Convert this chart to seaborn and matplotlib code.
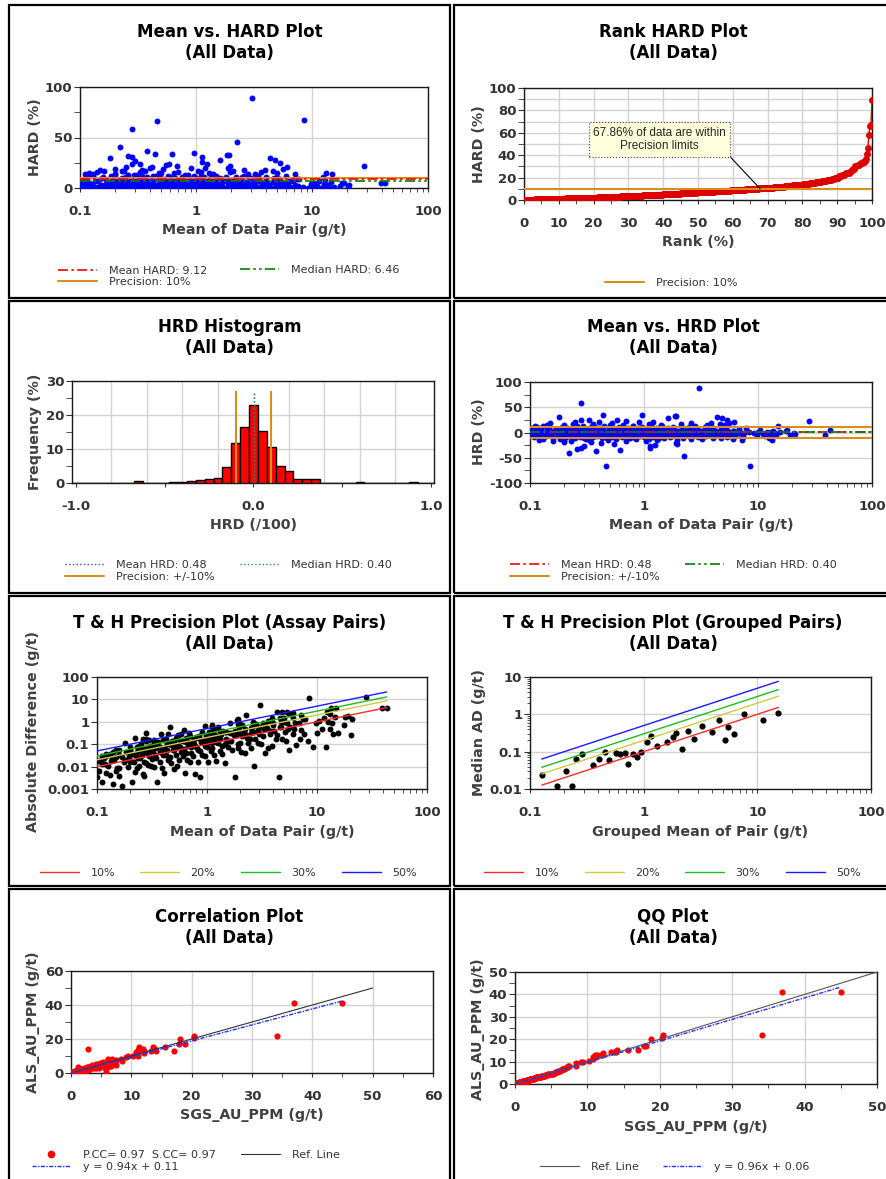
import numpy as np
import pandas as pd
import matplotlib
matplotlib.use("Agg")
import matplotlib.pyplot as plt
import seaborn as sns
from matplotlib.lines import Line2D
from matplotlib.patches import Rectangle
from matplotlib.ticker import LogLocator, NullFormatter

# duplicate pairs read off the Mean vs. HRD plot
# pair mean (g/t) and HRD (%) = (SGS - ALS) / (SGS + ALS) * 100
pair_mean = [
    # outliers
    0.46, 8.45, 2.24, 0.22, 0.38, 0.62, 0.26, 0.28, 1.12, 0.30, 1.12, 1.25, 0.55,
    1.9, 0.2, 0.34, 0.42, 1.95, 3.04, 0.28, 0.96, 0.44, 1.86, 1.92, 0.18, 4.37,
    4.8, 1.62, 0.33, 0.28, 5.3, 0.58, 0.25, 6.1, 0.69, 0.4, 0.9, 1.2, 2.6, 28,
    0.15, 0.52, 3.9, 5.6,
    # -17.5 .. -12.5
    0.12, 0.13, 0.16, 0.2, 0.23, 0.31, 0.33, 0.48, 0.7, 0.85, 1.05, 1.3, 1.95,
    3.2, 7.2, 13.3,
    # -12.5 .. -7.5
    0.108, 0.122, 0.138, 0.158, 0.185, 0.205, 0.23, 0.25, 0.275, 0.3, 0.33, 0.355,
    0.39, 0.43, 0.47, 0.52, 0.57, 0.64, 0.7, 0.76, 0.84, 0.92, 1.0, 1.1, 1.2,
    1.35, 1.5, 1.7, 1.95, 2.2, 2.6, 3.0, 3.5, 4.0, 4.7, 5.3, 6.0, 7.4, 12.4, 13.0,
    # -7.5 .. -2.5
    0.105, 0.118, 0.135, 0.152, 0.175, 0.195, 0.215, 0.235, 0.255, 0.28, 0.30,
    0.32, 0.345, 0.37, 0.40, 0.43, 0.46, 0.5, 0.54, 0.58, 0.62, 0.67, 0.72, 0.77,
    0.83, 0.89, 0.95, 1.05, 1.12, 1.2, 1.32, 1.45, 1.6, 1.75, 1.9, 2.1, 2.3, 2.5,
    2.75, 3.0, 3.3, 3.7, 4.1, 4.6, 5.1, 5.7, 6.3, 7.1, 9.8, 11.5, 12.6, 14.5,
    19.0, 21.0, 39,
    # -2.5 .. 2.5
    0.10, 0.11, 0.12, 0.13, 0.14, 0.15, 0.16, 0.17, 0.19, 0.21, 0.22, 0.23, 0.24,
    0.26, 0.27, 0.29, 0.31, 0.33, 0.35, 0.37, 0.39, 0.41, 0.44, 0.47, 0.5, 0.53,
    0.56, 0.6, 0.63, 0.66, 0.7, 0.74, 0.78, 0.82, 0.87, 0.91, 0.96, 1.02, 1.08,
    1.15, 1.22, 1.3, 1.38, 1.47, 1.56, 1.68, 1.8, 1.93, 2.05, 2.2, 2.36, 2.52,
    2.7, 2.9, 3.1, 3.35, 3.6, 3.9, 4.2, 4.5, 4.85, 5.2, 5.6, 6.0, 6.5, 7.0, 7.6,
    8.3, 9.2, 10.1, 11.0, 12.0, 13.0, 14.1, 17.5, 20.5, 15.5,
    # 2.5 .. 7.5
    0.102, 0.112, 0.125, 0.142, 0.16, 0.18, 0.2, 0.225, 0.245, 0.265, 0.29, 0.315,
    0.34, 0.385, 0.42, 0.45, 0.49, 0.52, 0.57, 0.61, 0.65, 0.71, 0.76, 0.81,
    0.86, 0.93, 0.99, 1.1, 1.18, 1.27, 1.36, 1.5, 1.65, 1.85, 2.0, 2.25, 2.45,
    2.65, 2.95, 3.25, 3.5, 3.8, 4.3, 4.7, 5.4, 6.2, 6.8, 10.5, 13.6, 18.0, 43,
    # 7.5 .. 12.5
    0.104, 0.115, 0.13, 0.148, 0.168, 0.19, 0.21, 0.24, 0.26, 0.285, 0.31, 0.34,
    0.375, 0.41, 0.45, 0.49, 0.55, 0.6, 0.66, 0.73, 0.8, 0.88, 0.97, 1.07, 1.17,
    1.3, 1.45, 1.62, 1.8, 2.15, 2.5, 2.9, 3.4, 4.0, 5.0, 7.8,
    # 12.5 .. 17.5
    0.11, 0.14, 0.2, 0.24, 0.29, 0.36, 0.5, 0.65, 0.8, 1.1, 1.4, 2.1, 2.8, 3.6,
    4.6, 5.0, 15,
]
pair_hrd = [
    -66, -67, -46, -41, -37, -34, -32, -31, -31, -27, -26, -24, -23,
    -20, -19, -18, -21, -22, 89, 58, 35, 34, 33, 33, 30, 30,
    28, 28, 24, 24, 25, 24, 21, 21, 22, 20, 20, 20, 18, 22,
    18, 19, 18, 19,
    -15, -13.5, -16.5, -14, -17, -13, -15.5, -14.5, -16, -13.2, -17.2, -14.8,
    -15.8, -13.6, -14.2, -15.2,
    -9.1, -11.8, -7.9, -10.4, -12.2, -8.6, -9.8, -11.1, -8.1, -10.9, -12.4, -9.4,
    -7.7, -11.5, -10.1, -8.9, -12.0, -9.6, -8.3, -10.7, -11.3, -7.8, -9.9, -12.3,
    -8.5, -10.3, -11.7, -9.2, -8.0, -10.8, -12.1, -9.5, -7.6, -11.0, -10.2, -8.7,
    -11.9, -9.0, -10.5, -8.4,
    -3.1, -5.6, -6.9, -2.8, -4.4, -7.2, -3.7, -5.1, -6.3, -2.6, -4.9, -7.4, -3.4,
    -5.9, -4.1, -6.6, -2.9, -5.3, -7.0, -3.9, -4.7, -6.1, -2.7, -5.5, -3.3, -7.3,
    -4.5, -6.0, -3.0, -5.0, -6.8, -3.6, -4.2, -7.1, -2.8, -5.8, -4.0, -6.4, -3.2,
    -5.2, -7.4, -3.8, -4.6, -6.2, -3.5, -5.4, -6.7, -2.9, -4.3, -6.5, -3.9, -5.7,
    -4.8, -3.3, -5.4,
    1.8, -0.9, 2.2, -1.6, 0.6, -2.1, 1.2, -0.4, 2.4, 0.5, -1.3, 1.9, -2.3, 0.9,
    -0.7, 2.0, -1.8, 1.4, 0.3, -2.2, 1.1, -0.6, 2.3, -1.5, 0.8, -1.0, 1.7, -2.4,
    0.4, 1.5, -1.2, 2.1, -0.3, 1.0, 0.2, -1.9, 1.6, -0.8, 2.2, -1.4, 0.7, -2.0,
    1.3, -0.5, 2.4, -1.7, 0.1, 1.8, -1.1, 0.9, -2.3, 1.4, -0.2, 2.0, -1.6, 0.6,
    -0.9, 1.1, -2.1, 0.04, 1.7, -1.3, 0.5, 2.3, -0.7, 1.2, -1.8, 0.8, -0.4, 1.5,
    -2.2, 0.3, 1.9, -1.0, 2.1, -0.6, 1.0,
    3.2, 6.1, 4.4, 7.2, 2.7, 5.5, 3.9, 6.8, 4.9, 2.9, 6.4, 3.5, 5.1, 7.4, 4.1,
    2.6, 5.8, 3.3, 6.6, 4.7, 3.0, 5.3, 7.0, 4.3, 2.8, 6.2, 3.7, 5.0, 7.3, 4.5,
    3.1, 5.9, 4.0, 6.9, 2.7, 5.6, 3.6, 6.3, 4.8, 3.4, 7.1, 5.2, 2.9, 6.0, 4.2,
    3.8, 6.7, 5.4, 3.2, 4.6, 4.6,
    8.2, 10.9, 12.1, 9.4, 7.7, 11.3, 8.8, 10.2, 12.4, 9.0, 7.9, 11.6, 10.5, 8.5,
    12.2, 9.7, 7.6, 11.0, 10.0, 8.3, 12.0, 9.2, 11.4, 7.8, 10.7, 8.9, 12.3, 9.6,
    11.1, 8.1, 10.4, 7.7, 11.8, 9.3, 10.1, 8.6,
    13.5, 15.5, 14, 16.5, 13, 17, 14.5, 15, 13.2, 16, 14.2, 17.2, 13.8, 15.8,
    16.8, 14.6, 13.4,
]

# summary values printed on the chart
mean_hard = 9.12
median_hard = 6.46
mean_hrd = 0.48
median_hrd = 0.40
precision = 10
within_pct = 67.86

# Thompson-Howarth precision levels (%)
th_levels = [10, 20, 30, 50]
th_colors = ['#ff2a2a', '#cccc44', '#22bb22', '#1a1aff']

# grouped pairs (median absolute difference per group)
grp_mean = [0.127, 0.172, 0.207, 0.234, 0.256, 0.286, 0.355, 0.404, 0.456, 0.50,
            0.566, 0.622, 0.68, 0.728, 0.80, 0.874, 0.94, 1.07, 1.17, 1.30,
            1.60, 1.80, 1.93, 2.16, 2.46, 2.75, 3.29, 3.96, 4.62, 5.17,
            5.50, 6.20, 7.67, 11.2, 15.3]
grp_ad = [0.0237, 0.0123, 0.031, 0.0123, 0.062, 0.085, 0.043, 0.062, 0.098, 0.060,
          0.092, 0.088, 0.092, 0.046, 0.086, 0.073, 0.10, 0.178, 0.26, 0.142,
          0.178, 0.25, 0.31, 0.12, 0.365, 0.22, 0.48, 0.345, 0.69, 0.21,
          0.45, 0.29, 1.04, 0.69, 1.08]

corr_fit = (0.94, 0.11)
qq_fit = (0.96, 0.06)
pcc, scc = 0.97, 0.97
ref_max = 50

df = pd.DataFrame({'mean': pair_mean, 'hrd': pair_hrd})
df['hard'] = df['hrd'].abs()
df['sgs'] = df['mean'] * (1 + df['hrd'] / 100)
df['als'] = df['mean'] * (1 - df['hrd'] / 100)
df['ad'] = (df['sgs'] - df['als']).abs()
df['rank'] = df['hard'].rank(method='first', pct=True) * 100
qq = pd.DataFrame({'sgs': np.sort(df['sgs'].values), 'als': np.sort(df['als'].values)})

sns.set_style('white')
plt.rcParams['font.family'] = ['DejaVu Sans']

W, H = 886, 1179
fig = plt.figure(figsize=(W / 100, H / 100), dpi=100)

ORANGE = '#d98e1a'
DASHDOT = (0, (6, 2, 1.5, 2))
DASHDOTDOT = (0, (6, 2, 1.5, 2, 1.5, 2))
TICK = dict(fontsize=9.5, fontweight='bold', color='#333333')


def px_ax(l, t, r, b):
    return fig.add_axes([l / W, 1 - b / H, (r - l) / W, (b - t) / H])


def frame(x0, y0, x1, y1):
    fig.add_artist(Rectangle((x0 / W, 1 - y1 / H), (x1 - x0) / W, (y1 - y0) / H,
                             transform=fig.transFigure, fill=False, ec='black', lw=1.6))


def ftxt(x, y, s, **kw):
    fig.text(x / W, 1 - y / H, s, ha='center', va='center', **kw)


def titles(cx, y, name):
    ftxt(cx, y, name, fontsize=12, fontweight='bold', color='black')
    ftxt(cx, y + 21, '(All Data)', fontsize=12, fontweight='bold', color='black')


def labels(xl, xpos, yl, ypos):
    ftxt(xpos[0], xpos[1], xl, fontsize=10.3, fontweight='bold', color='#404040')
    ftxt(ypos[0], ypos[1], yl, fontsize=10.3, fontweight='bold', color='#404040', rotation=90)


def base(ax):
    ax.set_facecolor('white')
    for sp in ax.spines.values():
        sp.set_visible(True)
        sp.set_color('#1a1a1a')
        sp.set_linewidth(1.0)
    ax.set_axisbelow(True)
    ax.grid(True, which='major', color='#d3d3d3', lw=1.0)
    ax.tick_params(which='both', color='#333333', bottom=True, left=True, top=False, right=False)
    ax.tick_params(axis='x', which='both', direction='out', length=3, pad=9)
    ax.tick_params(axis='y', which='both', direction='out', length=4, pad=1.5)
    ax.set_xlabel('')
    ax.set_ylabel('')


def log_x(ax):
    ax.set_xscale('log')
    ax.set_xlim(0.1, 100)
    ax.set_xticks([0.1, 1, 10, 100], ['0.1', '1', '10', '100'], **TICK)
    ax.xaxis.set_minor_locator(LogLocator(base=10, subs=np.arange(2, 10)))
    ax.xaxis.set_minor_formatter(NullFormatter())


def leg(ax, handles, texts, x, y):
    lg = ax.legend(handles, texts, loc='center left', bbox_to_anchor=(x / W, 1 - y / H),
                   bbox_transform=fig.transFigure, frameon=False, fontsize=8,
                   handlelength=3.5, handletextpad=1.05, labelspacing=0.15,
                   borderpad=0, borderaxespad=0, labelcolor='#333333')
    ax.add_artist(lg)
    ax.legend_ = None


h_mean = Line2D([], [], color='red', lw=1.2, ls=DASHDOT)
h_median = Line2D([], [], color='green', lw=1.2, ls=DASHDOTDOT)
h_prec = Line2D([], [], color=ORANGE, lw=1.5)

# panel frames
for y0, y1 in [(5, 297.5), (300.5, 592.5), (595.5, 885.5), (888.5, 1185)]:
    frame(9, y0, 450, y1)
    frame(454, y0, 892, y1)

LX, RX = 229.5, 673

# 1. Mean vs HARD
ax1 = px_ax(80, 87, 428, 188)
sns.scatterplot(data=df, x='mean', y='hard', color='#0000ff', s=18, linewidth=0, ax=ax1, zorder=3)
ax1.axhline(precision, color=ORANGE, lw=1.5, zorder=4)
ax1.axhline(mean_hard, color='red', lw=1.2, ls=DASHDOT, zorder=4)
ax1.axhline(median_hard, color='green', lw=1.2, ls=DASHDOTDOT, zorder=4)
base(ax1)
log_x(ax1)
ax1.set_ylim(0, 100)
ax1.set_yticks([0, 50, 100], ['0', '50', '100'], **TICK)
ax1.set_yticks([25, 75], minor=True)
titles(LX, 32, 'Mean vs. HARD Plot')
labels('Mean of Data Pair (g/t)', (254, 230), 'HARD (%)', (35, 137))
leg(ax1, [h_mean, h_prec], [f'Mean HARD: {mean_hard:.2f}', f'Precision: {precision}%'], 58, 276.5)
leg(ax1, [h_median], [f'Median HARD: {median_hard:.2f}'], 240, 270)

# 2. Rank HARD
ax2 = px_ax(524, 88, 872, 200)
rk = df.sort_values('rank')
sns.lineplot(data=rk, x='rank', y='hard', color='#dd0000', lw=1.0, marker='o', markersize=5,
             markeredgewidth=0, ax=ax2, zorder=3)
ax2.axhline(precision, color=ORANGE, lw=1.5, zorder=4)
base(ax2)
ax2.set_xlim(0, 100)
ax2.set_ylim(0, 100)
ax2.set_xticks(np.arange(0, 101, 10), [str(v) for v in range(0, 101, 10)], **TICK)
ax2.set_xticks(np.arange(5, 100, 10), minor=True)
ax2.set_yticks(np.arange(0, 101, 20), [str(v) for v in range(0, 101, 20)], **TICK)
ax2.set_yticks(np.arange(10, 100, 20), minor=True)
ax2.grid(True, which='minor', axis='y', color='#d3d3d3', lw=1.0)
ax2.annotate(f'{within_pct:.2f}% of data are within\nPrecision limits', xy=(within_pct, precision),
             xytext=(39, 54), ha='center', va='center', fontsize=8.5, family='Liberation Sans',
             bbox=dict(boxstyle='square,pad=0.35', fc='#ffffdc', ec='#444444', ls=':', lw=0.8),
             arrowprops=dict(arrowstyle='-', color='black', lw=0.8, relpos=(1, 0), shrinkA=0, shrinkB=0),
             zorder=6)
titles(RX, 32, 'Rank HARD Plot')
labels('Rank (%)', (698, 242), 'HARD (%)', (479, 144))
leg(ax2, [h_prec], [f'Precision: {precision}%'], 605, 283)

# 3. HRD histogram
ax3 = px_ax(72, 381, 434, 483)
hist_edges = np.arange(-1.025, 1.03, 0.05)
sns.histplot(x=df['hrd'] / 100, bins=hist_edges, stat='percent', color='#ff0000', edgecolor='black',
             linewidth=1.0, alpha=1, ax=ax3, zorder=3)
ax3.vlines([-precision / 100, precision / 100], 0, 27, colors=ORANGE, lw=1.5, zorder=4)
ax3.vlines(mean_hrd / 100, 0, 27, colors='#4444cc', lw=1.0, ls=':', zorder=5)
ax3.vlines(median_hrd / 100, 0, 27, colors='#229955', lw=1.0, ls=':', zorder=5)
base(ax3)
ax3.set_xlim(-1.0225, 1.017)
ax3.set_ylim(0, 30)
ax3.set_xticks([-1, -0.5, 0, 0.5, 1], ['-1.0', '', '0.0', '', '1.0'], **TICK)
ax3.set_xticks([-0.8, -0.6, -0.4, -0.2, 0, 0.2, 0.4, 0.6, 0.8], minor=True)
ax3.tick_params(axis='x', which='minor', length=0)
ax3.grid(False, which='major', axis='x')
ax3.grid(True, which='minor', axis='x', color='#d3d3d3', lw=1.0)
ax3.set_yticks([0, 10, 20, 30], ['0', '10', '20', '30'], **TICK)
ax3.set_yticks([5, 15, 25], minor=True)
titles(LX, 327, 'HRD Histogram')
labels('HRD (/100)', (253, 525), 'Frequency (%)', (35, 432))
h_hmean = Line2D([], [], color='#4444cc', lw=1.0, ls=':')
h_hmed = Line2D([], [], color='#229955', lw=1.0, ls=':')
leg(ax3, [h_hmean, h_prec], [f'Mean HRD: {mean_hrd:.2f}', f'Precision: +/-{precision}%'], 65, 571)
leg(ax3, [h_hmed], [f'Median HRD: {median_hrd:.2f}'], 240, 565)

# 4. Mean vs HRD
ax4 = px_ax(530, 382, 872, 483)
sns.scatterplot(data=df, x='mean', y='hrd', color='#0000ff', s=18, linewidth=0, ax=ax4, zorder=3)
ax4.axhline(precision, color=ORANGE, lw=1.5, zorder=4)
ax4.axhline(-precision, color=ORANGE, lw=1.5, zorder=4)
ax4.axhline(mean_hrd, color='red', lw=1.2, ls=DASHDOT, zorder=4)
ax4.axhline(median_hrd, color='green', lw=1.2, ls=DASHDOTDOT, zorder=4)
base(ax4)
log_x(ax4)
ax4.set_ylim(-100, 100)
ax4.set_yticks([-100, -50, 0, 50, 100], ['-100', '-50', '0', '50', '100'], **TICK)
ax4.set_yticks([-75, -25, 25, 75], minor=True)
titles(RX, 327, 'Mean vs. HRD Plot')
labels('Mean of Data Pair (g/t)', (701, 525), 'HRD (%)', (479, 432))
leg(ax4, [h_mean, h_prec], [f'Mean HRD: {mean_hrd:.2f}', f'Precision: +/-{precision}%'], 510, 571)
leg(ax4, [h_median], [f'Median HRD: {median_hrd:.2f}'], 685, 565)


def th_lines(ax, xs_src):
    xs = np.array([min(xs_src), max(xs_src)])
    for lvl, c in zip(th_levels, th_colors):
        sns.lineplot(x=xs, y=xs * lvl / 100, color=c, lw=1.0, ax=ax, zorder=4)


def th_legend(ax, xs):
    for lvl, c, x in zip(th_levels, th_colors, xs):
        leg(ax, [Line2D([], [], color=c, lw=1.0)], [f'{lvl}%'], x, 873)


# 5. T&H assay pairs
ax5 = px_ax(97, 677, 427, 789)
sns.scatterplot(data=df, x='mean', y='ad', color='black', s=18, linewidth=0, ax=ax5, zorder=3)
th_lines(ax5, df['mean'])
base(ax5)
log_x(ax5)
ax5.set_yscale('log')
ax5.set_ylim(0.001, 100)
ax5.set_yticks([0.001, 0.01, 0.1, 1, 10, 100], ['0.001', '0.01', '0.1', '1', '10', '100'], **TICK)
ax5.yaxis.set_minor_locator(LogLocator(base=10, subs=np.arange(2, 10)))
ax5.yaxis.set_minor_formatter(NullFormatter())
ax5.tick_params(axis='y', which='minor', length=2)
titles(LX, 623, 'T & H Precision Plot (Assay Pairs)')
labels('Mean of Data Pair (g/t)', (262, 832), 'Absolute Difference (g/t)', (33, 731))
th_legend(ax5, [40, 140, 241, 342])

# 6. T&H grouped pairs
ax6 = px_ax(530, 677, 871, 789)
sns.scatterplot(x=grp_mean, y=grp_ad, color='black', s=20, linewidth=0, ax=ax6, zorder=3)
th_lines(ax6, grp_mean)
base(ax6)
log_x(ax6)
ax6.set_yscale('log')
ax6.set_ylim(0.01, 10)
ax6.set_yticks([0.01, 0.1, 1, 10], ['0.01', '0.1', '1', '10'], **TICK)
ax6.yaxis.set_minor_locator(LogLocator(base=10, subs=np.arange(2, 10)))
ax6.yaxis.set_minor_formatter(NullFormatter())
ax6.tick_params(axis='y', which='minor', length=2)
titles(RX, 623, 'T & H Precision Plot (Grouped Pairs)')
labels('Grouped Mean of Pair (g/t)', (700, 832), 'Median AD (g/t)', (479, 732))
th_legend(ax6, [484, 585, 685, 786])

# 7. Correlation
ax7 = px_ax(71, 971, 433, 1073)
sns.scatterplot(data=df, x='sgs', y='als', color='#ff0000', s=20, linewidth=0, ax=ax7, zorder=3)
ref = np.array([0, ref_max])
sns.lineplot(x=ref, y=ref, color='#333333', lw=0.8, ax=ax7, zorder=4)
fx = np.array([df['sgs'].min(), df['sgs'].max()])
sns.lineplot(x=fx, y=corr_fit[0] * fx + corr_fit[1], color='#2233ff', lw=1.0, ls=(0, (3, 1, 1, 1)),
             ax=ax7, zorder=5)
base(ax7)
ax7.set_xlim(0, 60)
ax7.set_ylim(0, 60)
ax7.set_xticks(np.arange(0, 61, 10), [str(v) for v in range(0, 61, 10)], **TICK)
ax7.set_xticks(np.arange(5, 60, 10), minor=True)
ax7.set_yticks([0, 20, 40, 60], ['0', '20', '40', '60'], **TICK)
ax7.set_yticks([10, 30, 50], minor=True)
titles(LX, 917, 'Correlation Plot')
labels('SGS_AU_PPM (g/t)', (252, 1115), 'ALS_AU_PPM (g/t)', (33, 1022))
h_pts = Line2D([], [], marker='o', color='#ff0000', ls='none', markersize=4.5)
h_fit = Line2D([], [], color='#2233ff', lw=1.0, ls=(0, (3, 1, 1, 1)))
h_ref = Line2D([], [], color='#333333', lw=0.8)
leg(ax7, [h_pts, h_fit], [f'P.CC= {pcc:.2f}  S.CC= {scc:.2f}',
                          f'y = {corr_fit[0]:.2f}x + {corr_fit[1]:.2f}'], 32, 1161)
leg(ax7, [h_ref], ['Ref. Line'], 241, 1155)

# 8. QQ
ax8 = px_ax(515, 972, 877, 1084)
sns.scatterplot(data=qq, x='sgs', y='als', color='#ff0000', s=20, linewidth=0, ax=ax8, zorder=3)
sns.lineplot(x=ref, y=ref, color='#555555', lw=0.8, ax=ax8, zorder=4)
qx = np.array([qq['sgs'].min(), qq['sgs'].max()])
sns.lineplot(x=qx, y=qq_fit[0] * qx + qq_fit[1], color='#2233ff', lw=1.0, ls=(0, (3, 1, 1, 1)),
             ax=ax8, zorder=5)
base(ax8)
ax8.set_xlim(0, 50)
ax8.set_ylim(0, 50)
ax8.set_xticks(np.arange(0, 51, 10), [str(v) for v in range(0, 51, 10)], **TICK)
ax8.set_xticks(np.arange(5, 50, 10), minor=True)
ax8.set_yticks(np.arange(0, 51, 10), [str(v) for v in range(0, 51, 10)], **TICK)
ax8.set_yticks(np.arange(5, 50, 10), minor=True)
titles(RX, 917, 'QQ Plot')
labels('SGS_AU_PPM (g/t)', (696, 1127), 'ALS_AU_PPM (g/t)', (478, 1029))
leg(ax8, [Line2D([], [], color='#555555', lw=0.8)], ['Ref. Line'], 540, 1167)
leg(ax8, [h_fit], [f'y = {qq_fit[0]:.2f}x + {qq_fit[1]:.2f}'], 663, 1167)

fig.savefig('out.png', dpi=100)
